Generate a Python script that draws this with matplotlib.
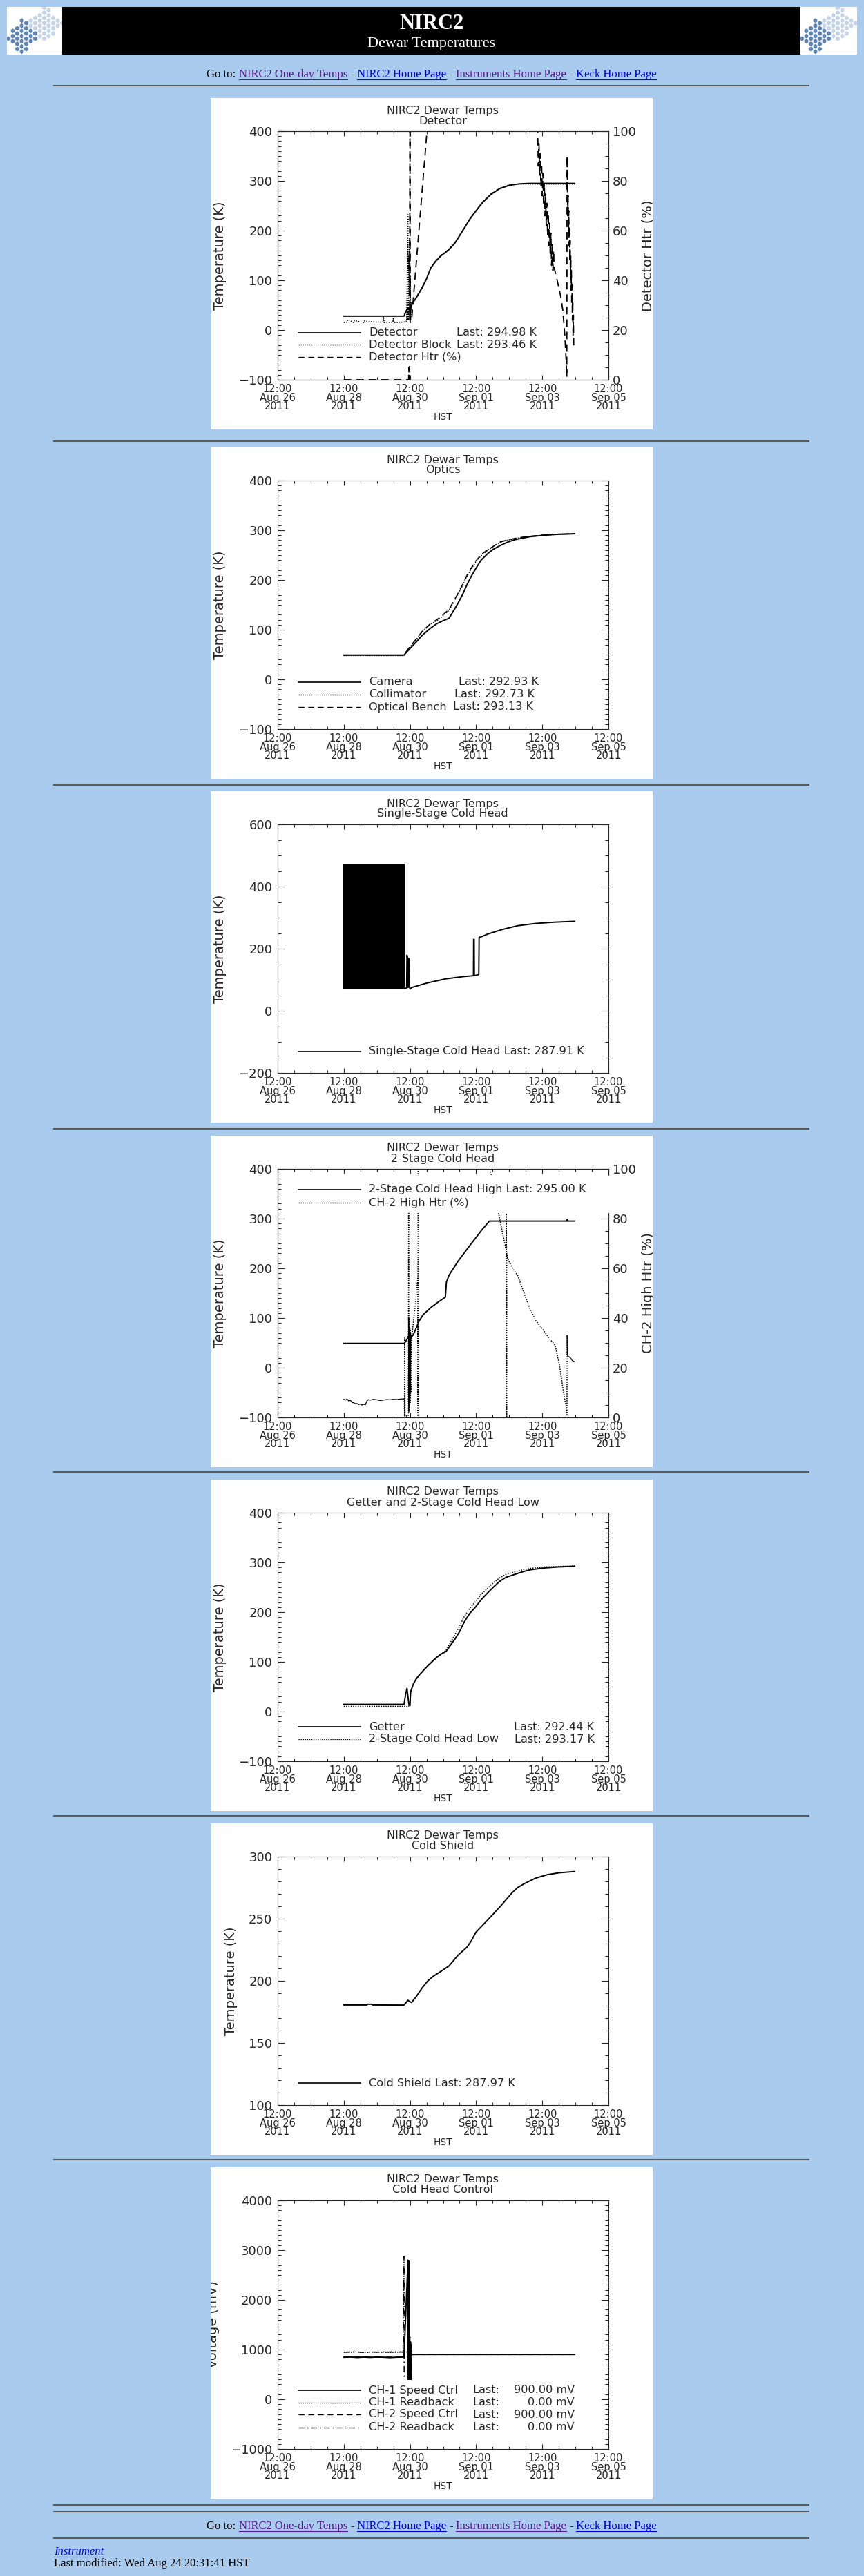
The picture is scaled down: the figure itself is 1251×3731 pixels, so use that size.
import matplotlib
matplotlib.use('Agg')
import matplotlib.pyplot as plt
from matplotlib.patches import Rectangle, RegularPolygon
from matplotlib.lines import Line2D
from matplotlib.transforms import IdentityTransform
from matplotlib.ticker import FixedLocator, FixedFormatter, MultipleLocator

# time axis: days since 2011-08-26 12:00 HST
day_ticks = [0, 2, 4, 6, 8, 10]
day_labels = ['12:00\nAug 26\n2011', '12:00\nAug 28\n2011', '12:00\nAug 30\n2011',
              '12:00\nSep 01\n2011', '12:00\nSep 03\n2011', '12:00\nSep 05\n2011']

# detector panel
det_x = [2.0, 3.82, 3.88, 3.94, 3.98, 4.0, 4.03, 4.1, 4.2, 4.36, 4.5, 4.63, 4.8, 4.95, 5.15, 5.35,
         5.55, 5.8, 6.0, 6.2, 6.45, 6.7, 7.0, 7.3, 7.6, 8.0, 8.5, 8.98]
det_y = [28, 28, 38, 45, 44, 30, 48, 56, 66, 84, 103, 125, 140, 150, 160, 174,
         195, 222, 240, 257, 273, 284, 291, 294, 295, 295, 295, 294.98]
blk_x = [2.0, 2.1, 2.12, 2.3, 2.32, 2.6, 2.62, 3.0, 3.18, 3.2, 3.22, 3.48, 3.5, 3.52, 3.82, 3.9,
         3.94, 3.945, 3.96, 3.97, 3.98, 3.99, 4.0, 4.01, 4.02, 4.04,
         4.1, 4.2, 4.36, 4.5, 4.63, 4.8, 4.95, 5.15, 5.35, 5.55, 5.8, 6.0, 6.2, 6.45, 6.7, 7.0,
         7.3, 7.6, 8.0, 8.5, 8.98]
blk_y = [15, 16, 21, 15, 19, 15, 18, 16, 16, 27, 15, 16, 25, 15, 16, 18,
         232, 20, 60, 150, 70, 185, 30, 110, 20, 55,
         57, 67, 85, 104, 126, 141, 151, 161, 175, 196, 223, 241, 258, 274, 285, 292,
         293.5, 293.5, 293.5, 293.5, 293.46]
det_htr_x = [2.0, 3.96, 3.965, 3.97, 3.99, 4.0, 4.005, 4.05, 4.52, 5.0, 7.8,
             7.86, 7.88, 7.9, 7.92, 7.94, 7.96, 7.98, 8.0, 8.02, 8.04, 8.06, 8.08, 8.1, 8.12, 8.14,
             8.16, 8.18, 8.2, 8.22, 8.24, 8.26, 8.28, 8.3, 8.32, 8.34, 8.36,
             8.45, 8.55, 8.62, 8.68, 8.72, 8.74, 8.75,
             8.76, 8.77, 8.78, 8.79, 8.8, 8.81, 8.82, 8.83, 8.84, 8.85, 8.86, 8.87, 8.88, 8.89,
             8.9, 8.91, 8.92, 8.93, 8.94, 8.95]
det_htr_y = [0, 0, 5, 0, 0, 110, 23, 24, 101, 140, 140,
             100, 86, 95, 82, 91, 78, 87, 74, 83, 70, 79, 66, 75, 62, 71,
             58, 67, 54, 63, 50, 59, 46, 55, 44, 52, 45,
             40, 34, 28, 18, 8, 1, 90,
             78, 66, 74, 60, 68, 54, 62, 48, 56, 42, 50, 36, 44, 30,
             38, 24, 32, 18, 26, 13]

# optics panel
opt_x = [2.0, 3.82, 3.9, 4.0, 4.2, 4.36, 4.6, 4.81, 5.0, 5.18, 5.3, 5.45, 5.6, 5.72, 5.85, 5.99,
         6.15, 6.35, 6.5, 6.72, 6.95, 7.17, 7.4, 7.62, 8.07, 8.5, 8.98]
cam_y = [49, 49, 55, 62, 76, 88, 102, 112, 118, 123, 136, 153, 172, 190, 207, 223,
         240, 253, 261, 269, 276, 281, 284, 287, 290, 292, 292.93]
col_y = [48, 48, 56, 65, 81, 95, 110, 118, 128, 139, 153, 171, 190, 207, 222, 236,
         249, 260, 266, 276, 280, 283, 285.5, 287.5, 290, 291.5, 292.73]
ben_y = [49, 49, 57, 66, 82, 96, 111, 120, 130, 141, 155, 173, 192, 209, 224, 238,
         251, 261, 267, 276, 280.5, 283.5, 286, 288, 290.5, 292, 293.13]

# single-stage cold head
ss_band_x = [1.96, 3.85]
ss_band_lo = [68, 68]
ss_band_hi = [474, 474]
ss_x = [3.85, 3.9, 3.91, 3.93, 3.94, 3.96, 3.97, 3.99, 4.0, 4.05, 4.54, 5.09, 5.6, 5.92, 5.925,
        5.94, 5.945, 6.05, 6.08, 6.09, 6.1, 6.35, 6.8, 7.26, 7.8, 8.34, 8.98]
ss_y = [72, 74, 179, 170, 75, 168, 168, 75, 70, 75, 90, 103, 110, 113, 230,
        230, 113, 116, 117, 237, 236, 247, 262, 274, 281, 285, 287.91]

# 2-stage cold head high
ch2_x = [2.0, 3.83, 3.9, 3.95, 4.0, 4.05, 4.1, 4.27, 4.4, 4.63, 4.85, 5.07, 5.09, 5.1, 5.18,
         5.45, 5.81, 6.17, 6.4, 8.74, 8.75, 8.76, 8.98]
ch2_y = [49, 49, 56, 63, 61, 63, 66, 93, 107, 121, 132, 142, 160, 172, 186,
         214, 246, 277, 295, 295, 298, 295, 295.0]
ch2_htr_x = [3.82, 3.84, 3.845, 3.85, 3.95, 3.96, 3.965, 3.97, 3.975, 3.98, 3.985, 3.99, 3.995,
             4.0, 4.005, 4.01, 4.015, 4.02, 4.025, 4.03, 4.04, 4.06, 4.15, 4.235, 4.24, 4.245,
             5.0, 6.3, 6.4, 6.55, 6.68, 6.8, 6.9, 6.915, 6.92, 6.925, 6.95, 7.1, 7.26, 7.45,
             7.62, 7.8, 7.98, 8.2, 8.39, 8.52, 8.62, 8.72, 8.745, 8.75]
ch2_htr_y = [7.5, 0, 32, 1, 0, 83, 2, 40, 3, 38, 4, 37, 5,
             36, 6, 35, 8, 34, 10, 33, 32, 33, 44, 56, 0, 120,
             150, 150, 101, 92, 82, 74, 68, 83, 0, 66, 64, 60, 57, 50,
             44, 39, 36, 32, 29, 21, 12, 4, 1, 33]
ch2_htr_early_x = [2.0, 2.05, 2.1, 2.15, 2.2, 2.25, 2.3, 2.35, 2.4, 2.45, 2.5, 2.55, 2.6, 2.65,
                   2.7, 2.75, 2.8, 2.9, 3.0, 3.1, 3.2, 3.3, 3.4, 3.5, 3.6, 3.7, 3.82]
ch2_htr_early_y = [7.3, 7.0, 7.4, 6.6, 6.9, 6.0, 5.9, 5.5, 5.6, 5.2, 5.4, 5.0, 5.3, 5.1,
                   6.7, 7.2, 7.0, 7.3, 7.1, 6.8, 7.0, 7.2, 7.1, 7.3, 7.2, 7.4, 7.5]
ch2_htr_end_x = [8.75, 8.755, 8.8, 8.85, 8.9, 8.98]
ch2_htr_end_y = [33, 25, 24.5, 24, 23, 22.3]

# getter and 2-stage low
get_x = [2.0, 3.82, 3.87, 3.91, 3.94, 3.97, 4.0, 4.02, 4.1, 4.18, 4.3, 4.45, 4.6, 4.81, 4.95,
         5.09, 5.2, 5.36, 5.5, 5.63, 5.8, 5.99, 6.15, 6.35, 6.5, 6.71, 6.9, 7.17, 7.4, 7.62,
         8.07, 8.5, 8.98]
get_y = [14.5, 14.5, 35, 47, 30, 14, 12, 40, 55, 65, 75, 86, 96, 109, 116,
         121, 131, 146, 161, 179, 197, 211, 225, 239, 249, 262, 270, 276, 281, 285,
         289, 291, 292.44]
low_y = [10.5, 10.5, 11, 10, 12, 11, 11, 38, 54, 64, 75, 86, 97, 110, 117,
         123, 136, 155, 172, 190, 207, 222, 236, 248, 258, 269, 276, 281, 285, 288,
         291, 292, 293.17]

# cold shield
cs_x = [2.0, 2.7, 2.72, 2.85, 2.87, 3.82, 3.88, 3.94, 3.98, 4.05, 4.18, 4.36, 4.54, 4.72, 4.9,
        5.18, 5.45, 5.72, 5.85, 5.99, 6.35, 6.72, 7.08, 7.25, 7.44, 7.8, 8.16, 8.52, 8.98]
cs_y = [180.6, 180.6, 181.2, 181.2, 180.6, 180.5, 182.5, 184.4, 183.5, 182.6, 187, 194, 200,
        204, 207, 212, 220.6, 227, 232, 239, 249, 259.6, 270.7, 275, 278, 282.7, 285.5, 287,
        287.97]

# cold head control (mV)
ch1_spd_x = [2.0, 2.2, 2.4, 2.6, 2.8, 3.0, 3.2, 3.4, 3.6, 3.82, 3.94, 3.945, 3.95, 3.955, 3.96,
             3.965, 3.97, 3.975, 3.98, 4.0, 4.02, 4.05, 8.98]
ch1_spd_y = [845, 850, 840, 848, 842, 850, 845, 838, 846, 850, 2800, 0, 2790, 0, 2780,
             0, 2770, 0, 900, 1100, 880, 900, 900]
ch1_rb_x = [2.0, 2.2, 2.4, 2.6, 2.8, 3.0, 3.2, 3.4, 3.6, 3.82, 4.0, 4.01, 8.98]
ch1_rb_y = [950, 945, 955, 940, 950, 945, 952, 940, 948, 950, 950, 0, 0]
ch2_spd_x = [2.0, 2.3, 2.6, 2.9, 3.2, 3.5, 3.82, 3.98, 4.0, 4.005, 4.01, 4.015, 4.02, 4.025,
             4.03, 4.035, 4.04, 4.05, 4.06, 8.98]
ch2_spd_y = [855, 848, 852, 845, 850, 846, 850, 850, 1250, 300, 1150, 300, 1200, 300,
             1000, 300, 1100, 880, 900, 900]
ch2_rb_x = [2.0, 2.3, 2.6, 2.9, 3.2, 3.5, 3.8, 3.82, 3.825, 4.05, 8.98]
ch2_rb_y = [945, 955, 940, 950, 945, 955, 950, 2870, 0, 0, 0]

nav_items = [('Go to:', 'black', False), ('NIRC2 One-day Temps', 'visited', True),
             ('-', 'black', False), ('NIRC2 Home Page', 'link', True),
             ('-', 'black', False), ('Instruments Home Page', 'visited', True),
             ('-', 'black', False), ('Keck Home Page', 'link', True)]

W, H = 1251, 3731
BG = '#a9cbee'
INK = '#262626'
COLORS = {'black': 'black', 'link': '#0000ee', 'visited': '#551a8b'}
PIX = IdentityTransform()
PX0 = 305
SERIF = 'Liberation Serif'
LS = {'solid': '-', 'dot': (0, (1, 1.2)), 'dash': (0, (6, 4)), 'dashdot': (0, (6, 3, 1.2, 3))}
LEG_SIZE = 11.6

fig = plt.figure(figsize=(W / 100, H / 100), dpi=100)
fig.patch.set_facecolor(BG)
renderer = fig.canvas.get_renderer()


def rect(x, y, w, h, color, z=0):
    r = Rectangle((x, H - y - h), w, h, transform=PIX, facecolor=color, edgecolor='none', zorder=z)
    fig.add_artist(r)
    return r


def hline(x0, x1, y, color, lw, z=1, ls='-'):
    fig.add_artist(Line2D([x0, x1], [H - y, H - y], transform=PIX, color=color, lw=lw,
                          linestyle=ls, zorder=z))


def text(x, y, s, **kw):
    kw.setdefault('color', INK)
    return fig.text(x, H - y, s, transform=PIX, **kw)


def logo(x0, w):
    box = rect(x0, 10, w, 69, 'white', z=1)
    for i in range(14):
        for j in range(10):
            cx = x0 + 2 + i * 6.5
            cy = 11 + j * 7.5 + (3.75 if i % 2 else 0)
            dark = abs(cx - (x0 + 23)) / 24 + abs(cy - 53) / 27 <= 1
            light = abs(cx - (x0 + 55)) / 27 + abs(cy - 35) / 27 <= 1
            if not (dark or light):
                continue
            hx = RegularPolygon((cx, H - cy), 6, radius=3.7, transform=PIX,
                                facecolor='#5d84b2' if dark else '#c6d4e7',
                                edgecolor='white', lw=0.4, zorder=2)
            hx.set_clip_path(box)
            fig.add_artist(hx)


def nav(y):
    items = []
    for s, c, u in nav_items:
        t = text(0, y, s, color=COLORS[c], fontsize=12, family=SERIF, va='baseline')
        items.append((t, t.get_window_extent(renderer).width, u, COLORS[c]))
    space = 4.2
    total = sum(it[1] for it in items) + space * (len(items) - 1)
    x = 625 - total / 2
    for t, w, u, c in items:
        t.set_x(x)
        if u:
            hline(x, x + w, y + 2.5, c, 0.8)
        x += w + space


def panel(top, subtitle, ylim, ymaj, ymin, ylabel, ylabel_x):
    bg = rect(PX0, top, 640, 480, 'white', z=-1)
    ax = fig.add_axes([(PX0 + 97) / W, (H - top - 408) / H, 479 / W, 360 / H])
    ax.set_facecolor('none')
    ax.set_xlim(0, 10)
    ax.set_ylim(*ylim)
    ax.xaxis.set_major_locator(FixedLocator(day_ticks))
    ax.xaxis.set_major_formatter(FixedFormatter(day_labels))
    ax.xaxis.set_minor_locator(MultipleLocator(0.5))
    ax.yaxis.set_major_locator(MultipleLocator(ymaj))
    ax.yaxis.set_minor_locator(MultipleLocator(ymin))
    ax.tick_params(which='both', direction='in', top=True, right=True, color=INK,
                   labelcolor=INK, width=0.8)
    ax.tick_params(axis='x', which='major', length=5, labelsize=10.5, pad=4.5)
    ax.tick_params(axis='x', which='minor', length=2.8)
    ax.tick_params(axis='y', which='major', length=7.2, labelsize=13, pad=5.5)
    ax.tick_params(axis='y', which='minor', length=3.6)
    for t in ax.get_xticklabels():
        t.set_linespacing(0.8)
    for s in ax.spines.values():
        s.set_color(INK)
        s.set_linewidth(0.8)
    text(PX0 + 336, top + 18, 'NIRC2 Dewar Temps', ha='center', va='center', fontsize=11.5)
    text(PX0 + 336, top + 33, subtitle, ha='center', va='center', fontsize=11.5)
    text(PX0 + 336, top + 462, 'HST', ha='center', va='center', fontsize=10)
    yl = text(PX0 + ylabel_x, top + 228, ylabel, rotation=90, ha='center', va='center',
              fontsize=14)
    yl.set_clip_path(bg)
    return ax, bg


def right_axis(ax, bg, top, label):
    ax.tick_params(axis='y', which='both', right=False)
    ax2 = ax.twinx()
    ax2.set_ylim(0, 100)
    ax2.yaxis.set_major_locator(MultipleLocator(20))
    ax2.yaxis.set_minor_locator(MultipleLocator(5))
    ax2.tick_params(axis='y', which='both', direction='in', color=INK, labelcolor=INK, width=0.8)
    ax2.tick_params(axis='y', which='major', length=7.2, labelsize=13, pad=4.3)
    ax2.tick_params(axis='y', which='minor', length=3.6)
    for s in ax2.spines.values():
        s.set_color(INK)
        s.set_linewidth(0.8)
    rl = text(PX0 + 633, top + 228, label, rotation=90, ha='center', va='center', fontsize=14)
    rl.set_clip_path(bg)
    return ax2


def legend(top, box, rows, row_y):
    x0, y0, x1, y1 = box
    rect(PX0 + x0, top + y0, x1 - x0, y1 - y0, 'white', z=3)
    for (style, pieces), ly in zip(rows, row_y):
        hline(PX0 + 127, PX0 + 217, top + ly, 'black', 1.2 if style == 'solid' else 1.0,
              z=4, ls=LS[style])
        end = 0
        for s, lx, ha in pieces:
            x = PX0 + lx
            if ha == 'left':
                x = max(x, end + 7)
            t = text(x, top + ly, s, ha=ha, va='center', fontsize=LEG_SIZE, zorder=4)
            end = t.get_window_extent(renderer).x1


def line(ax, x, y, style, lw=None):
    if lw is None:
        lw = 1.4 if style == 'solid' else 1.1
    ax.plot(x, y, color='black', lw=lw, linestyle=LS[style])


# page header
rect(90, 10, 1069, 69, 'black', z=1)
logo(10, 80)
logo(1159, 82)
text(625, 42, 'NIRC2', color='white', fontsize=22, family=SERIF, weight='bold',
     ha='center', va='baseline', zorder=3)
text(625, 68, 'Dewar Temperatures', color='white', fontsize=16, family=SERIF,
     ha='center', va='baseline', zorder=3)
nav(112)
for y in [124, 639, 1137, 1635, 2132, 2630, 3128, 3628, 3638, 3676]:
    hline(78, 1171, y, '#5c5c5c', 1.5)

# detector
top = 142
ax, bg = panel(top, 'Detector', (-100, 400), 100, 10, 'Temperature (K)', 13)
line(ax, det_x, det_y, 'solid')
line(ax, blk_x, blk_y, 'dot')
ax2 = right_axis(ax, bg, top, 'Detector Htr (%)')
line(ax2, det_htr_x, det_htr_y, 'dash', lw=1.3)
legend(top, (115, 326, 490, 388),
       [('solid', [('Detector', 229, 'left'), ('Last: 294.98 K', 356, 'left')]),
        ('dot', [('Detector Block', 229, 'left'), ('Last: 293.46 K', 356, 'left')]),
        ('dash', [('Detector Htr (%)', 229, 'left')])],
       [340, 357, 375])

# optics
top = 648
ax, bg = panel(top, 'Optics', (-100, 400), 100, 10, 'Temperature (K)', 13)
line(ax, opt_x, cam_y, 'solid')
line(ax, opt_x, col_y, 'dot')
line(ax, opt_x, ben_y, 'dash')
legend(top, (115, 328, 500, 388),
       [('solid', [('Camera', 229, 'left'), ('Last: 292.93 K', 359, 'left')]),
        ('dot', [('Collimator', 229, 'left'), ('Last: 292.73 K', 353, 'left')]),
        ('dash', [('Optical Bench', 229, 'left'), ('Last: 293.13 K', 351, 'left')])],
       [340, 358, 376])

# single-stage cold head
top = 1146
ax, bg = panel(top, 'Single-Stage Cold Head', (-200, 600), 200, 50, 'Temperature (K)', 13)
ax.fill_between(ss_band_x, ss_band_lo, ss_band_hi, color='black', lw=0)
line(ax, ss_x, ss_y, 'solid')
legend(top, (115, 366, 570, 389),
       [('solid', [('Single-Stage Cold Head Last: 287.91 K', 229, 'left')])],
       [377])

# 2-stage cold head
top = 1645
ax, bg = panel(top, '2-Stage Cold Head', (-100, 400), 100, 10, 'Temperature (K)', 13)
line(ax, ch2_x, ch2_y, 'solid')
ax2 = right_axis(ax, bg, top, 'CH-2 High Htr (%)')
line(ax2, ch2_htr_x, ch2_htr_y, 'dot')
line(ax2, ch2_htr_early_x, ch2_htr_early_y, 'solid', lw=0.9)
line(ax2, ch2_htr_end_x, ch2_htr_end_y, 'solid', lw=0.9)
legend(top, (115, 58, 590, 112),
       [('solid', [('2-Stage Cold Head High Last: 295.00 K', 229, 'left')]),
        ('dot', [('CH-2 High Htr (%)', 229, 'left')])],
       [78, 97])

# getter
top = 2143
ax, bg = panel(top, 'Getter and 2-Stage Cold Head Low', (-100, 400), 100, 10,
               'Temperature (K)', 13)
line(ax, get_x, get_y, 'solid')
line(ax, get_x, low_y, 'dot')
legend(top, (115, 346, 572, 388),
       [('solid', [('Getter', 229, 'left'), ('Last: 292.44 K', 439, 'left')]),
        ('dot', [('2-Stage Cold Head Low', 229, 'left'), ('Last: 293.17 K', 440, 'left')])],
       [358, 376])

# cold shield
top = 2641
ax, bg = panel(top, 'Cold Shield', (100, 300), 50, 10, 'Temperature (K)', 30)
line(ax, cs_x, cs_y, 'solid')
legend(top, (115, 364, 480, 389),
       [('solid', [('Cold Shield Last: 287.97 K', 229, 'left')])],
       [376])

# cold head control
top = 3139
ax, bg = panel(top, 'Cold Head Control', (-1000, 4000), 1000, 100, 'Voltage (mV)', 3)
line(ax, ch1_spd_x, ch1_spd_y, 'solid')
line(ax, ch1_rb_x, ch1_rb_y, 'dot')
line(ax, ch2_spd_x, ch2_spd_y, 'dash')
line(ax, ch2_rb_x, ch2_rb_y, 'dashdot')
legend(top, (115, 308, 535, 390),
       [('solid', [('CH-1 Speed Ctrl', 229, 'left'), ('Last:', 379, 'left'), ('900.00 mV', 527, 'right')]),
        ('dot', [('CH-1 Readback', 229, 'left'), ('Last:', 379, 'left'), ('0.00 mV', 527, 'right')]),
        ('dash', [('CH-2 Speed Ctrl', 229, 'left'), ('Last:', 379, 'left'), ('900.00 mV', 527, 'right')]),
        ('dashdot', [('CH-2 Readback', 229, 'left'), ('Last:', 379, 'left'), ('0.00 mV', 527, 'right')])],
       [323, 341, 358, 377])

# page footer
nav(3663)
t = text(78, 3700, 'Instrument', color=COLORS['link'], fontsize=12, family=SERIF,
         style='italic', va='baseline')
w = t.get_window_extent(renderer).width
hline(78, 78 + w, 3703, COLORS['link'], 0.8)
text(78, 3717, 'Last modified: Wed Aug 24 20:31:41 HST', color='black', fontsize=12,
     family=SERIF, va='baseline')

fig.savefig('out.png', dpi=100, facecolor=BG)
